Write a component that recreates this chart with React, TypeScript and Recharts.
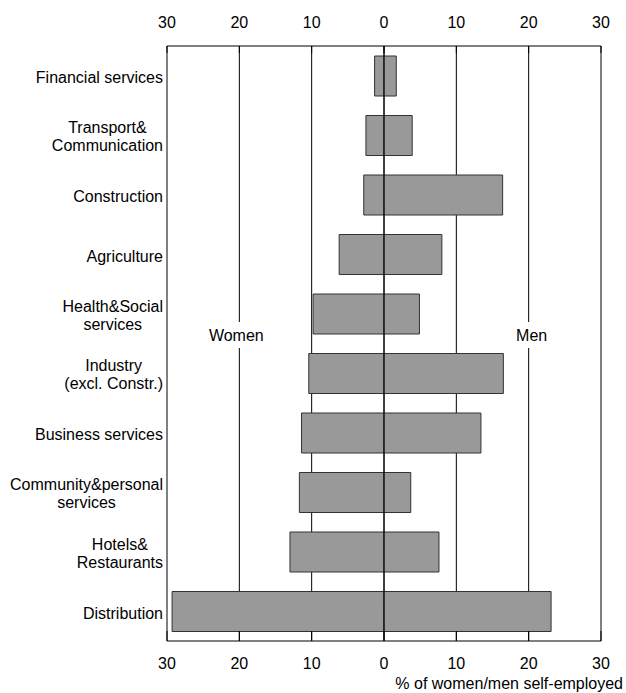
import React from "react";
import {
  Bar,
  BarChart,
  CartesianGrid,
  Label,
  ReferenceLine,
  XAxis,
  YAxis,
} from "recharts";

// categories top to bottom, "\n" marks the line break of the axis label
const categories = [
  "Financial services",
  "Transport&\nCommunication",
  "Construction",
  "Agriculture",
  "Health&Social\nservices",
  "Industry\n(excl. Constr.)",
  "Business services",
  "Community&personal\nservices",
  "Hotels&\nRestaurants",
  "Distribution",
];

// % of women self-employed in each sector
const women = [1.3, 2.5, 2.8, 6.2, 9.8, 10.4, 11.4, 11.7, 13.0, 29.3];
// % of men self-employed in each sector
const men = [1.7, 3.9, 16.4, 8.0, 4.9, 16.5, 13.4, 3.7, 7.6, 23.1];

const xTicks = [-30, -20, -10, 0, 10, 20, 30];

const FONT = '"Liberation Sans", Arial, sans-serif';
const FONT_SIZE = 16;

// women plotted to the left of zero, men to the right
const data = categories.map((name, i) => ({
  name,
  women: -women[i],
  men: men[i],
}));

let ctx: CanvasRenderingContext2D | null = null;
function textWidth(s: string) {
  if (!ctx) ctx = document.createElement("canvas").getContext("2d");
  if (!ctx) return s.length * FONT_SIZE * 0.5;
  ctx.font = `${FONT_SIZE}px ${FONT}`;
  return ctx.measureText(s).width;
}

function CategoryTick(props: any) {
  const { x, y, payload } = props;
  const lines = String(payload.value).split("\n");
  if (lines.length === 1) {
    return (
      <text x={x} y={y + 7.5} textAnchor="end" fill="#000" fontSize={FONT_SIZE} fontFamily={FONT}>
        {lines[0]}
      </text>
    );
  }
  // multi-line labels are centred on each other, block is right aligned
  const w = Math.max(...lines.map(textWidth));
  const cx = x - w / 2;
  return (
    <text textAnchor="middle" fill="#000" fontSize={FONT_SIZE} fontFamily={FONT}>
      {lines.map((l, i) => (
        <tspan key={i} x={cx} y={y - 2 + i * 18}>
          {l}
        </tspan>
      ))}
    </text>
  );
}

// side label sitting on a gridline, with a white gap behind it
const sideLabel = (text: string, dx: number) => (props: any) => {
  const vb = props.viewBox;
  const cx = vb.x + dx;
  return (
    <g>
      <rect x={cx - 32} y={vb.y + 276} width={64} height={26} fill="#fff" />
      <text
        x={cx}
        y={vb.y + 294.5}
        textAnchor="middle"
        fill="#000"
        fontSize={FONT_SIZE}
        fontFamily={FONT}
      >
        {text}
      </text>
    </g>
  );
};

const fmt = (v: number) => String(Math.abs(v));

export default function App() {
  return (
    <div style={{ position: "absolute", left: 0, top: 0, width: 626, height: 693, background: "#fff" }}>
      <BarChart
        width={626}
        height={693}
        data={data}
        layout="vertical"
        stackOffset="sign"
        barSize={40}
        margin={{ top: 16, right: 25, bottom: 2, left: 7 }}
        style={{ fontFamily: FONT }}
      >
        <CartesianGrid xAxisId="bottom" horizontal={false} stroke="#000" strokeWidth={1} />
        <XAxis
          xAxisId="top"
          orientation="top"
          type="number"
          domain={[-30, 30]}
          allowDataOverflow
          ticks={xTicks}
          tickFormatter={fmt}
          height={30}
          tickSize={-7}
          tickMargin={25}
          axisLine={{ stroke: "#000" }}
          tickLine={{ stroke: "#000" }}
          tick={{ fill: "#000", fontSize: FONT_SIZE }}
          interval={0}
        />
        <XAxis
          xAxisId="bottom"
          orientation="bottom"
          type="number"
          domain={[-30, 30]}
          allowDataOverflow
          ticks={xTicks}
          tickFormatter={fmt}
          height={50}
          tickSize={-10}
          tickMargin={27}
          axisLine={{ stroke: "#000" }}
          tickLine={{ stroke: "#000" }}
          tick={{ fill: "#000", fontSize: FONT_SIZE }}
          interval={0}
        >
          <Label
            content={(props: any) => {
              const vb = props.viewBox;
              return (
                <text
                  x={vb.x + vb.width + 22}
                  y={vb.y + 48}
                  textAnchor="end"
                  fill="#000"
                  fontSize={FONT_SIZE}
                  fontFamily={FONT}
                >
                  % of women/men self-employed
                </text>
              );
            }}
          />
        </XAxis>
        <YAxis
          type="category"
          dataKey="name"
          width={160}
          axisLine={false}
          tickLine={false}
          tickSize={0}
          tickMargin={4}
          interval={0}
          tick={<CategoryTick />}
        />
        <ReferenceLine
          xAxisId="bottom"
          x={-20}
          stroke="none"
          label={sideLabel("Women", -3)}
        />
        <ReferenceLine
          xAxisId="bottom"
          x={20}
          stroke="none"
          label={sideLabel("Men", 3)}
        />
        <Bar
          xAxisId="bottom"
          dataKey="women"
          stackId="s"
          fill="#999999"
          stroke="#333"
          strokeWidth={1}
          isAnimationActive={false}
        />
        <Bar
          xAxisId="bottom"
          dataKey="men"
          stackId="s"
          fill="#999999"
          stroke="#333"
          strokeWidth={1}
          isAnimationActive={false}
        />
        <ReferenceLine xAxisId="bottom" x={0} stroke="#000" strokeWidth={1} />
        <ReferenceLine xAxisId="bottom" x={-30} stroke="#808080" strokeWidth={2} />
        <ReferenceLine xAxisId="bottom" x={30} stroke="#808080" strokeWidth={2} />
      </BarChart>
    </div>
  );
}
